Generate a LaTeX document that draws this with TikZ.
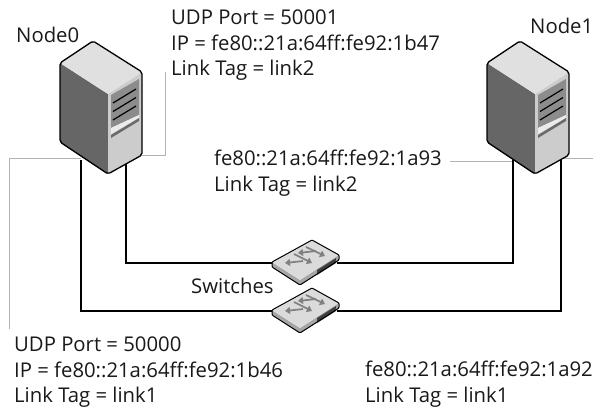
\documentclass[tikz,border=0pt]{standalone}
\usepackage{fontspec}
\setmainfont{Open Sans}
\usetikzlibrary{arrows.meta}
\tikzset{
  link/.style={draw=black,line width=1.2pt},
  lead/.style={draw=black!30,line width=0.8pt},
  lbl/.style={inner sep=0pt,anchor=north west,align=left,font=\fontsize{20.3}{25.3}\selectfont,text=black!90},
  edge/.style={line width=1.3pt,line join=round,draw=black}
}
\definecolor{stop}{gray}{0.88}
\definecolor{sleft}{gray}{0.40}
\definecolor{sright}{gray}{0.80}
\definecolor{spanel}{gray}{0.55}
\newcommand{\servershape}[1]{%
\begin{scope}[shift={(#1,0)}]
  \fill[sleft] (0,63)--(48,94)--(48,174)--(0,142)--cycle;
  \fill[sright] (48,94)--(82,72)--(82,155)--(48,174)--cycle;
  \fill[stop] (0,63)--(33,41)--(82,72)--(48,94)--cycle;
  \fill[spanel] (51,95)--(79,79)--(79,115)--(51,128)--cycle;
  \fill[black!8] (51,128)--(79,115)--(79,118)--(51,134)--cycle;
  \fill[black!58] (51,135)--(79,118)--(79,121)--(51,138)--cycle;
  \foreach \d in {0,8.5,17}{\draw[line width=1.2pt] (53,103+\d)--(76,89+\d);}
  \draw[edge,rounded corners=2pt] (0,63)--(33,41)--(82,72)--(82,155)--(48,174)--(0,142)--cycle;
\end{scope}}
\newcommand{\switchshape}[1]{%
\begin{scope}[shift={(0,#1)}]
  \fill[black!35] (272,262)--(300,280)--(339,254)--(339,260)--(300,285)--(272,267)--cycle;
  \fill[black!14] (272,262)--(312,240)--(339,255)--(300,280)--cycle;
  \fill[black!75] (317,270)--(336,258)--(336,263)--(317,275)--cycle;
  \foreach \a/\b/\c/\d in {303/261/285/263,294/254/312/263,316/251/298/253,306/247/325/256}{
    \draw[black!50,line width=1.7pt,-{Triangle[length=5pt,width=7pt]}] (\a,\b)--(\c,\d);}
  \draw[line width=1pt,line join=round,rounded corners=1pt] (272,262)--(312,240)--(339,255)--(339,260)--(300,285)--(272,267)--cycle;
\end{scope}}
\begin{document}
\begin{tikzpicture}[x=1pt,y=-1pt]
\useasboundingbox (0,0) rectangle (593,407);
\fill[white] (0,0) rectangle (593,407);
% anchors
\coordinate (s0a) at (81,160);
\coordinate (s0b) at (126,160);
\coordinate (s1a) at (513,160);
\coordinate (s1b) at (561,160);
\coordinate (sw1l) at (274,263);
\coordinate (sw1r) at (337,263);
\coordinate (sw2l) at (274,311);
\coordinate (sw2r) at (337,311);
\coordinate (g0) at (81,158);
\coordinate (g0c) at (9,158);
\coordinate (g0e) at (9,329);
\coordinate (g1) at (140,155);
\coordinate (g1c) at (165,155);
\coordinate (g1e) at (165,72);
\coordinate (g2) at (450,161);
\coordinate (g2e) at (513,161);
\coordinate (g3) at (561,158);
\coordinate (g3e) at (593,158);
% leads
\draw[lead] (g0)--(g0c)--(g0e);
\draw[lead] (g1)--(g1c)--(g1e);
\draw[lead] (g2)--(g2e);
\draw[lead] (g3)--(g3e);
% links
\draw[link] (s0b)--(sw1l-|s0b)--(sw1l);
\draw[link] (sw1r)--(sw1r-|s1a)--(s1a);
\draw[link] (s0a)--(sw2l-|s0a)--(sw2l);
\draw[link] (sw2r)--(sw2r-|s1b)--(s1b);
\servershape{60}
\servershape{487}
\switchshape{0}
\switchshape{48}
% labels
\node[lbl] (n0) at (16,27) {Node0};
\node[lbl] (n1) at (530,18) {Node1};
\node[lbl] (t0) at (171,10) {UDP Port = 50001\\IP = fe80::21a:64ff:fe92:1b47\\Link Tag = link2};
\node[lbl] (t1) at (214,150) {fe80::21a:64ff:fe92:1a93\\Link Tag = link2};
\node[lbl] (t2) at (191,278) {Switches};
\node[lbl] (t3) at (14,337) {UDP Port = 50000\\IP = fe80::21a:64ff:fe92:1b46\\Link Tag = link1};
\node[lbl] (t4) at (365,361) {fe80::21a:64ff:fe92:1a92\\Link Tag = link1};
\end{tikzpicture}
\end{document}
